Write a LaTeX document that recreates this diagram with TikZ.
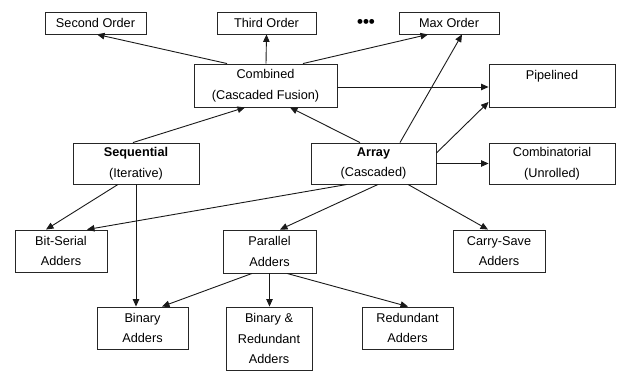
\documentclass[tikz,border=0pt]{standalone}
\usepackage{fontspec}
\setmainfont{Liberation Sans}
\usetikzlibrary{arrows.meta}
\begin{document}
\begin{tikzpicture}[x=1pt,y=-1pt,
  box/.style={draw=black!85,line width=0.9pt,align=center,inner sep=0pt,
    font=\fontsize{12.7}{20.5}\selectfont,text=black},
  arr/.style={draw=black!90,line width=0.9pt,-{Triangle[length=7.5pt,width=6.5pt]}}]
\useasboundingbox (0,0) rectangle (618,371);
\node[box,minimum width=101pt,minimum height=22pt] (so) at (95.5,23) {Second Order};
\node[box,minimum width=99pt,minimum height=22pt] (to) at (266.5,23) {Third Order};
\node[box,minimum width=100pt,minimum height=22pt] (mo) at (449,23) {Max Order};
\node[font=\fontsize{17}{18}\selectfont\bfseries,inner sep=0pt] (dots) at (366,23) {•••};
\node[box,minimum width=143pt,minimum height=43pt] (comb) at (265.5,85.5) {Combined\\(Cascaded Fusion)};
\node[box,minimum width=126pt,minimum height=43pt] (pipe) at (552,85.5) {Pipelined\\\mbox{}};
\node[box,minimum width=126pt,minimum height=41pt] (seq) at (136,163.5) {\textbf{Sequential}\\(Iterative)};
\node[box,minimum width=125pt,minimum height=41pt] (arr) at (373.5,163.5) {\textbf{Array}\\(Cascaded)};
\node[box,minimum width=126pt,minimum height=41pt] (comi) at (552,163.5) {Combinatorial\\(Unrolled)};
\node[box,minimum width=92pt,minimum height=42pt] (bs) at (61,251) {Bit-Serial\\Adders};
\node[box,minimum width=93pt,minimum height=43pt] (par) at (269.5,251.5) {Parallel\\Adders};
\node[box,minimum width=92pt,minimum height=42pt] (cs) at (499,251) {Carry-Save\\Adders};
\node[box,minimum width=91pt,minimum height=42pt] (bin) at (142.5,328) {Binary\\Adders};
\node[box,minimum width=86pt,minimum height=63pt] (br) at (269,338.5) {Binary \&\\Redundant\\Adders};
\node[box,minimum width=91pt,minimum height=42pt] (red) at (407.5,328) {Redundant\\Adders};
% connectors
\draw[arr] ([xshift=-38.5pt]comb.north) -- ([xshift=1.5pt]so.south);
\draw[arr] ([xshift=0.5pt]comb.north) -- (to.south);
\draw[arr] ([xshift=37.5pt]comb.north) -- ([xshift=-21pt]mo.south);
\draw[arr] ([xshift=26.5pt]arr.north) -- ([xshift=13pt]mo.south);
\draw[arr] ([yshift=-1.5pt]comb.east) -- ([yshift=-1.5pt]pipe.west);
\draw[arr] ([yshift=10.5pt]arr.east) -- ([yshift=-16.5pt]pipe.west);
\draw[arr] (arr.east) -- (comi.west);
\draw[arr] ([xshift=-3pt]seq.north) -- ([xshift=-20.5pt]comb.south);
\draw[arr] ([xshift=-13.5pt]arr.north) -- ([xshift=24.5pt]comb.south);
\draw[arr] ([xshift=-18pt]seq.south) -- ([xshift=-15pt]bs.north);
\draw[arr] ([xshift=-26.5pt]arr.south) -- ([xshift=26pt]bs.north);
\draw[arr] ([xshift=4.5pt]arr.south) -- ([xshift=10.5pt]par.north);
\draw[arr] ([xshift=34.5pt]arr.south) -- ([xshift=-11pt]cs.north);
\draw[arr] (seq.south) -- (seq.south |- bin.north);
\draw[arr] ([xshift=-17.5pt]par.south) -- ([xshift=19.5pt]bin.north);
\draw[arr] (par.south) -- (par.south |- br.north);
\draw[arr] ([xshift=17.5pt]par.south) -- ([xshift=0.5pt]red.north);
\end{tikzpicture}
\end{document}
